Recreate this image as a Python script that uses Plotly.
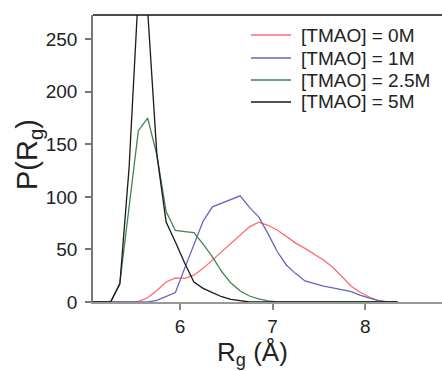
import plotly.graph_objects as go

# Rg grid (Å)
rg = [5.05, 5.15, 5.25, 5.35, 5.45, 5.55, 5.65, 5.75, 5.85, 5.95,
      6.05, 6.15, 6.25, 6.35, 6.45, 6.55, 6.65, 6.75, 6.85, 6.95,
      7.05, 7.15, 7.25, 7.35, 7.45, 7.55, 7.65, 7.75, 7.85, 7.95,
      8.05, 8.15, 8.25, 8.35]

p_0M = [0, 0, 0, 0, 0, 0.5, 4, 11, 19, 23,
        22.5, 25.5, 32, 40, 48, 56, 64, 71.5, 76, 73,
        68.5, 62, 56, 51, 45.5, 40, 33, 24, 15, 9,
        4.5, 1.2, 0, 0]

p_1M = [0, 0, 0, 0, 0, 0, 0, 1.5, 5, 9,
        32, 54, 77, 90.5, 94, 97.5, 101, 90, 81, 65,
        48, 35, 27, 20, 17.5, 15, 13.5, 12, 9.8, 6.4,
        3.5, 1, 0, 0]

p_2_5M = [0, 0, 0, 18, 90, 163, 175, 140, 86, 68,
          67, 66, 55, 43, 29, 18, 10.5, 5.7, 3, 1,
          0, 0, 0, 0, 0, 0, 0, 0, 0, 0,
          0, 0, 0, 0]

p_5M = [0, 0, 0, 17, 128, 295, 278, 140, 76, 57,
        37, 19, 13, 9, 5, 2.5, 1, 0, 0, 0,
        0, 0, 0, 0, 0, 0, 0, 0, 0, 0,
        0, 0, 0, 0]

names = ["[TMAO] = 0M", "[TMAO] = 1M", "[TMAO] = 2.5M", "[TMAO] = 5M"]
colors = ["#ff6b6b", "#6464c0", "#3f8555", "#1a1a1a"]
series = [p_0M, p_1M, p_2_5M, p_5M]

W, H = 442, 371
L, R, T, B = 93, 0, 15, 69
pw, ph = W - L - R, H - T - B


def px_x(p):
    return (p - L) / pw


def px_y(p):
    return (H - B - p) / ph


fig = go.Figure()
for nm, col, ys in zip(names, colors, series):
    fig.add_trace(go.Scatter(x=rg, y=ys, mode="lines", name=nm,
                             line=dict(color=col, width=1.3)))

font_family = "Liberation Sans, Arial, Helvetica, sans-serif"

fig.update_layout(
    width=W, height=H,
    margin=dict(l=L, r=R, t=T, b=B),
    paper_bgcolor="white", plot_bgcolor="white",
    font=dict(family=font_family, color="#222222"),
    showlegend=False,
    xaxis=dict(range=[5.06, 8.83], tickvals=[6, 7, 8], ticks="outside",
               ticklen=6, tickwidth=1.5, tickcolor="#888888",
               showline=True, linecolor="#999999", linewidth=2,
               showgrid=False, zeroline=False,
               tickfont=dict(size=19, color="#222222")),
    yaxis=dict(range=[0, 273], tickvals=[0, 50, 100, 150, 200, 250],
               ticks="outside", ticklen=6, tickwidth=1.5, tickcolor="#777777",
               showline=True, linecolor="#777777", linewidth=1.5,
               showgrid=False, zeroline=False, ticklabelstandoff=4,
               tickfont=dict(size=19, color="#222222")),
)

# top frame line
fig.add_shape(type="line", xref="paper", yref="paper", x0=0, x1=1, y0=1, y1=1,
              line=dict(color="#111111", width=1.5))

# legend (line samples + labels)
leg_rows = [35, 58, 80, 102]
for nm, col, ry in zip(names, colors, leg_rows):
    fig.add_shape(type="line", xref="paper", yref="paper",
                  x0=px_x(251), x1=px_x(291), y0=px_y(ry), y1=px_y(ry),
                  line=dict(color=col, width=1.5))
    fig.add_annotation(text=nm, xref="paper", yref="paper",
                       x=px_x(299), y=px_y(ry), xanchor="left", yanchor="middle",
                       showarrow=False, font=dict(size=19, color="#222222"))

# axis titles
fig.add_annotation(text="R<sub>g</sub> (Å)", xref="paper", yref="paper",
                   x=px_x(252), y=px_y(353), xanchor="center",
                   yanchor="middle", showarrow=False,
                   font=dict(size=26, color="#222222"))
fig.add_annotation(text="P(R<sub>g</sub>)", xref="paper", yref="paper",
                   x=px_x(29), y=px_y(155),
                   xanchor="center", yanchor="middle", textangle=-90,
                   showarrow=False, font=dict(size=29, color="#222222"))

fig.write_html("out.html",
               config={"displayModeBar": False},
               post_script="document.body.style.margin='0';"
                           "document.documentElement.style.overflow='hidden';")
